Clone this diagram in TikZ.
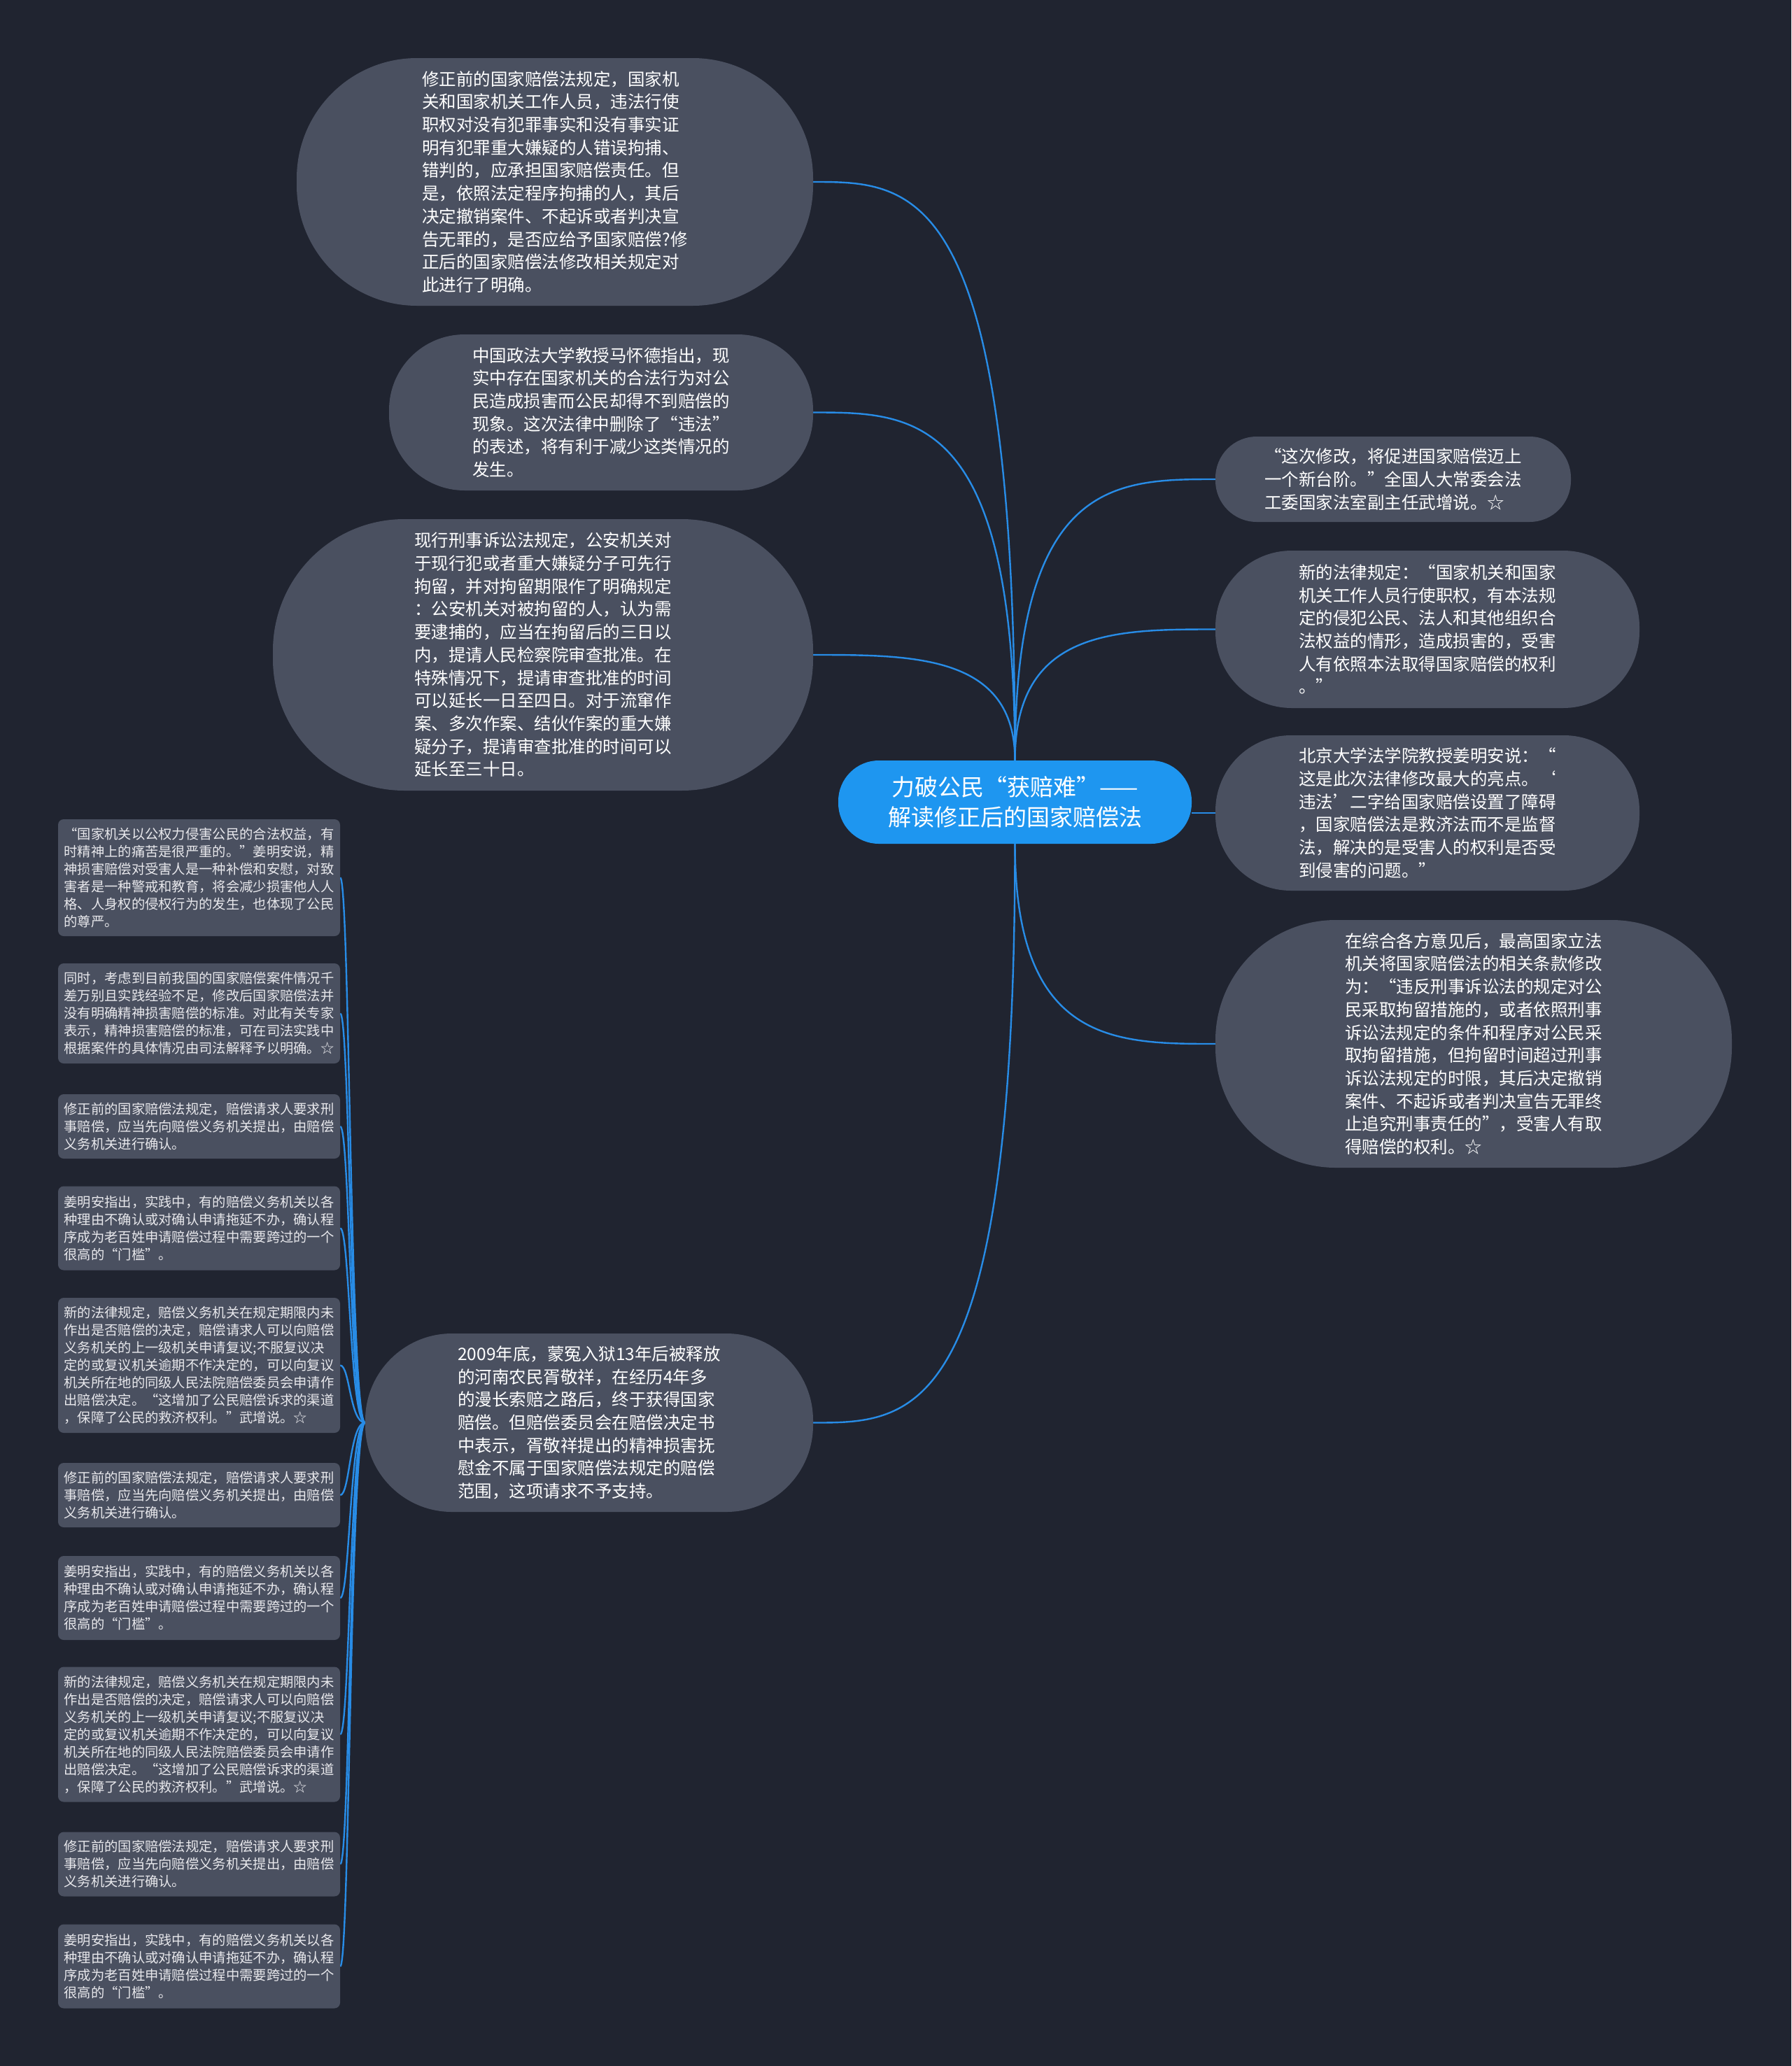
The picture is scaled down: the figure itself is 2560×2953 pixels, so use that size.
\documentclass[tikz,border=0pt]{standalone}
\usepackage{fontspec}
\setmainfont{Noto Sans CJK SC}
\usetikzlibrary{calc,backgrounds}
\definecolor{bgc}{RGB}{32,36,48}
\definecolor{nodec}{RGB}{74,80,96}
\definecolor{centerc}{RGB}{30,150,240}
\definecolor{edgec}{RGB}{40,140,230}
\definecolor{smalltext}{RGB}{232,232,236}
\tikzset{
  bignode/.style={fill=nodec, text=white, align=left, inner sep=0pt,
    font=\fontsize{24.5}{32.7}\selectfont},
  smallnode/.style={fill=nodec, text=smalltext, align=left, inner sep=0pt,
    rounded corners=8pt, minimum width=403pt,
    font=\fontsize{19.3}{25}\selectfont},
  centernode/.style={fill=centerc, text=white, align=center, inner sep=0pt,
    font=\fontsize{33}{43}\selectfont},
  edge/.style={draw=edgec, line width=2.4pt},
}
\begin{document}
\begin{tikzpicture}[x=1pt,y=-1pt]
\useasboundingbox (0,0) rectangle (2560,2953);

% central node
\node[centernode, minimum width=505pt, minimum height=119pt, rounded corners=58pt] (c) at (1450.5,1146.5)
  {力破公民“获赔难”——\\解读修正后的国家赔偿法};

% upper-left big nodes
\node[bignode, minimum width=738pt, minimum height=354pt, rounded corners=172pt] (A) at (793,260)
  {修正前的国家赔偿法规定，国家机\\关和国家机关工作人员，违法行使\\职权对没有犯罪事实和没有事实证\\明有犯罪重大嫌疑的人错误拘捕、\\错判的，应承担国家赔偿责任。但\\是，依照法定程序拘捕的人，其后\\决定撤销案件、不起诉或者判决宣\\告无罪的，是否应给予国家赔偿?修\\正后的国家赔偿法修改相关规定对\\此进行了明确。};

\node[bignode, minimum width=606pt, minimum height=223pt, rounded corners=108pt] (B) at (859,589.5)
  {中国政法大学教授马怀德指出，现\\实中存在国家机关的合法行为对公\\民造成损害而公民却得不到赔偿的\\现象。这次法律中删除了“违法”\\的表述，将有利于减少这类情况的\\发生。};

\node[bignode, minimum width=772pt, minimum height=388pt, rounded corners=188pt] (C) at (776,936)
  {现行刑事诉讼法规定，公安机关对\\于现行犯或者重大嫌疑分子可先行\\拘留，并对拘留期限作了明确规定\\：公安机关对被拘留的人，认为需\\要逮捕的，应当在拘留后的三日以\\内，提请人民检察院审查批准。在\\特殊情况下，提请审查批准的时间\\可以延长一日至四日。对于流窜作\\案、多次作案、结伙作案的重大嫌\\疑分子，提请审查批准的时间可以\\延长至三十日。};

\node[bignode, minimum width=640pt, minimum height=255pt, rounded corners=124pt] (D) at (842,2033.5)
  {2009年底，蒙冤入狱13年后被释放\\的河南农民胥敬祥，在经历4年多\\的漫长索赔之路后，终于获得国家\\赔偿。但赔偿委员会在赔偿决定书\\中表示，胥敬祥提出的精神损害抚\\慰金不属于国家赔偿法规定的赔偿\\范围，这项请求不予支持。};

% right big nodes
\node[bignode, minimum width=508pt, minimum height=122pt, rounded corners=59pt] (R1) at (1991,685)
  {“这次修改，将促进国家赔偿迈上\\一个新台阶。”全国人大常委会法\\工委国家法室副主任武增说。☆};

\node[bignode, minimum width=606pt, minimum height=225pt, rounded corners=109pt] (R2) at (2040,899.5)
  {新的法律规定：“国家机关和国家\\机关工作人员行使职权，有本法规\\定的侵犯公民、法人和其他组织合\\法权益的情形，造成损害的，受害\\人有依照本法取得国家赔偿的权利\\。”};

\node[bignode, minimum width=606pt, minimum height=222pt, rounded corners=108pt] (R3) at (2040,1162)
  {北京大学法学院教授姜明安说：“\\这是此次法律修改最大的亮点。‘\\违法’二字给国家赔偿设置了障碍\\，国家赔偿法是救济法而不是监督\\法，解决的是受害人的权利是否受\\到侵害的问题。”};

\node[bignode, minimum width=738pt, minimum height=354pt, rounded corners=172pt] (R4) at (2106,1492)
  {在综合各方意见后，最高国家立法\\机关将国家赔偿法的相关条款修改\\为：“违反刑事诉讼法的规定对公\\民采取拘留措施的，或者依照刑事\\诉讼法规定的条件和程序对公民采\\取拘留措施，但拘留时间超过刑事\\诉讼法规定的时限，其后决定撤销\\案件、不起诉或者判决宣告无罪终\\止追究刑事责任的”，受害人有取\\得赔偿的权利。☆};

% left small nodes
\node[smallnode, minimum height=167pt] (S1) at (284.5,1254.5)
  {“国家机关以公权力侵害公民的合法权益，有\\时精神上的痛苦是很严重的。”姜明安说，精\\神损害赔偿对受害人是一种补偿和安慰，对致\\害者是一种警戒和教育，将会减少损害他人人\\格、人身权的侵权行为的发生，也体现了公民\\的尊严。};
\node[smallnode, minimum height=143pt] (S2) at (284.5,1448.5)
  {同时，考虑到目前我国的国家赔偿案件情况千\\差万别且实践经验不足，修改后国家赔偿法并\\没有明确精神损害赔偿的标准。对此有关专家\\表示，精神损害赔偿的标准，可在司法实践中\\根据案件的具体情况由司法解释予以明确。☆};
\node[smallnode, minimum height=92pt] (S3) at (284.5,1610)
  {修正前的国家赔偿法规定，赔偿请求人要求刑\\事赔偿，应当先向赔偿义务机关提出，由赔偿\\义务机关进行确认。};
\node[smallnode, minimum height=120pt] (S4) at (284.5,1755.5)
  {姜明安指出，实践中，有的赔偿义务机关以各\\种理由不确认或对确认申请拖延不办，确认程\\序成为老百姓申请赔偿过程中需要跨过的一个\\很高的“门槛”。};
\node[smallnode, minimum height=193pt] (S5) at (284.5,1951.5)
  {新的法律规定，赔偿义务机关在规定期限内未\\作出是否赔偿的决定，赔偿请求人可以向赔偿\\义务机关的上一级机关申请复议;不服复议决\\定的或复议机关逾期不作决定的，可以向复议\\机关所在地的同级人民法院赔偿委员会申请作\\出赔偿决定。“这增加了公民赔偿诉求的渠道\\，保障了公民的救济权利。”武增说。☆};
\node[smallnode, minimum height=92pt] (S6) at (284.5,2137)
  {修正前的国家赔偿法规定，赔偿请求人要求刑\\事赔偿，应当先向赔偿义务机关提出，由赔偿\\义务机关进行确认。};
\node[smallnode, minimum height=120pt] (S7) at (284.5,2284)
  {姜明安指出，实践中，有的赔偿义务机关以各\\种理由不确认或对确认申请拖延不办，确认程\\序成为老百姓申请赔偿过程中需要跨过的一个\\很高的“门槛”。};
\node[smallnode, minimum height=193pt] (S8) at (284.5,2479)
  {新的法律规定，赔偿义务机关在规定期限内未\\作出是否赔偿的决定，赔偿请求人可以向赔偿\\义务机关的上一级机关申请复议;不服复议决\\定的或复议机关逾期不作决定的，可以向复议\\机关所在地的同级人民法院赔偿委员会申请作\\出赔偿决定。“这增加了公民赔偿诉求的渠道\\，保障了公民的救济权利。”武增说。☆};
\node[smallnode, minimum height=92pt] (S9) at (284.5,2664.5)
  {修正前的国家赔偿法规定，赔偿请求人要求刑\\事赔偿，应当先向赔偿义务机关提出，由赔偿\\义务机关进行确认。};
\node[smallnode, minimum height=120pt] (S10) at (284.5,2810.5)
  {姜明安指出，实践中，有的赔偿义务机关以各\\种理由不确认或对确认申请拖延不办，确认程\\序成为老百姓申请赔偿过程中需要跨过的一个\\很高的“门槛”。};

\coordinate (trunk) at (500,0);

\begin{pgfonlayer}{background}
  \fill[bgc] (0,0) rectangle (2560,2953);
  % upward edges from the top of the central node
  \foreach \n in {A,B,C}{
    \draw[edge] (c.north) .. controls (c.north |- \n.east) and ($(c.north |- \n.east)!0.5!(\n.east)$) .. (\n.east);
  }
  \foreach \n in {R1,R2}{
    \draw[edge] (c.north) .. controls (c.north |- \n.west) and ($(c.north |- \n.west)!0.5!(\n.west)$) .. (\n.west);
  }
  \draw[edge] (c.east |- R3.west) -- (R3.west);
  \draw[edge] (c.south) .. controls (c.south |- R4.west) and ($(c.south |- R4.west)!0.5!(R4.west)$) .. (R4.west);
  \draw[edge] (c.south) .. controls (c.south |- D.east) and ($(c.south |- D.east)!0.5!(D.east)$) .. (D.east);
  % edges from D to the small nodes
  \foreach \n in {S1,S2,S3,S4,S5,S6,S7,S8,S9,S10}{
    \draw[edge] (D.west) .. controls (trunk |- D.west) and (trunk |- \n.east) .. (\n.east);
  }
\end{pgfonlayer}
\end{tikzpicture}
\end{document}
